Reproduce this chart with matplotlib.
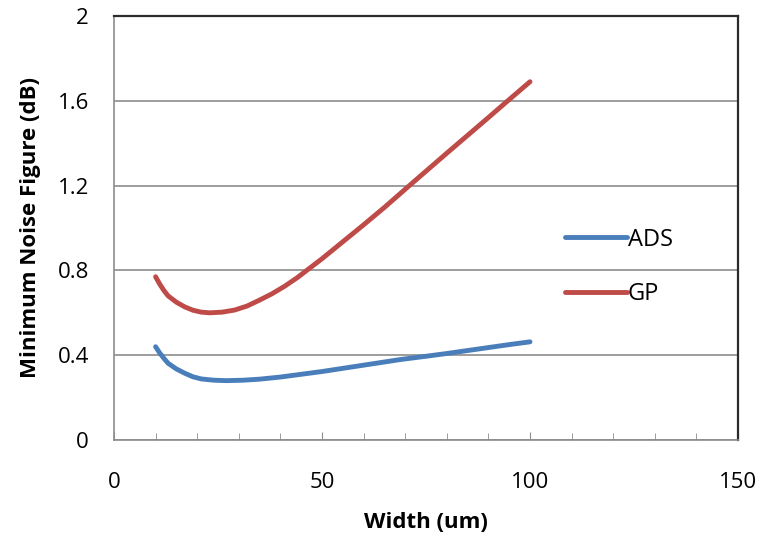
import matplotlib.pyplot as plt
import numpy as np

# values
ads_width = [10, 11, 12, 13, 15, 17, 19, 21, 24, 27, 31, 35, 40, 45, 50, 55, 60,
             65, 69, 75, 80, 85, 90, 95, 100]
ads_nf = [0.44, 0.41, 0.385, 0.362, 0.335, 0.315, 0.298, 0.288, 0.282, 0.28, 0.282,
          0.287, 0.297, 0.31, 0.323, 0.338, 0.353, 0.368, 0.38, 0.395, 0.408, 0.422,
          0.436, 0.45, 0.463]

gp_width = [10, 11, 12, 13, 15, 17, 19, 21, 23, 26, 29, 32, 35, 38, 41, 44, 47, 50,
            55, 60, 65, 71, 76, 80, 85, 90, 94, 100]
gp_nf = [0.77, 0.735, 0.705, 0.68, 0.65, 0.628, 0.612, 0.603, 0.60, 0.603, 0.613,
         0.632, 0.66, 0.69, 0.725, 0.765, 0.81, 0.855, 0.935, 1.015, 1.097, 1.20,
         1.285, 1.353, 1.437, 1.521, 1.589, 1.69]

x_ticks = [0, 50, 100, 150]
y_ticks = [0, 0.4, 0.8, 1.2, 1.6, 2]
y_labels = ["0", "0.4", "0.8", "1.2", "1.6", "2"]

plt.rcParams['font.family'] = ['Open Sans', 'DejaVu Sans']

fig = plt.figure(figsize=(7.63, 5.44), dpi=100)
ax = fig.add_axes([114 / 763, 104 / 544, 624 / 763, 424 / 544])

ax.plot(ads_width, ads_nf, color='#4a7ebb', linewidth=3.5, solid_capstyle='round',
        solid_joinstyle='round', label='ADS')
ax.plot(gp_width, gp_nf, color='#be4b48', linewidth=3.5, solid_capstyle='round',
        solid_joinstyle='round', label='GP')

ax.set_xlim(0, 150)
ax.set_ylim(0, 2)
ax.set_xticks(x_ticks)
ax.set_xticks(np.arange(0, 151, 10), minor=True)
ax.set_yticks(y_ticks)
ax.set_yticklabels(y_labels)

ax.grid(axis='y', color='#8c8c8c', linewidth=1.2)
ax.set_axisbelow(True)

for s in ['left', 'bottom']:
    ax.spines[s].set_color('#8c8c8c')
    ax.spines[s].set_linewidth(1.2)
for s in ['top', 'right']:
    ax.spines[s].set_color('#2b2b2b')
    ax.spines[s].set_linewidth(1.6)

ax.tick_params(axis='x', which='both', direction='in', length=6, color='#8c8c8c',
               labelsize=16, pad=23)
ax.tick_params(axis='x', which='minor', length=5)
ax.tick_params(axis='y', length=0, labelsize=16, pad=18)

ax.set_xlabel("Width (um)", fontsize=16, fontweight='bold', labelpad=14)
ax.set_ylabel("Minimum Noise Figure (dB)", fontsize=16, fontweight='bold', labelpad=12)

ax.legend(loc='center left', bbox_to_anchor=(0.689, 0.408), frameon=False,
          fontsize=17, handlelength=2.6, handletextpad=0.05, labelspacing=1.3)

fig.savefig("out.png", dpi=100)
